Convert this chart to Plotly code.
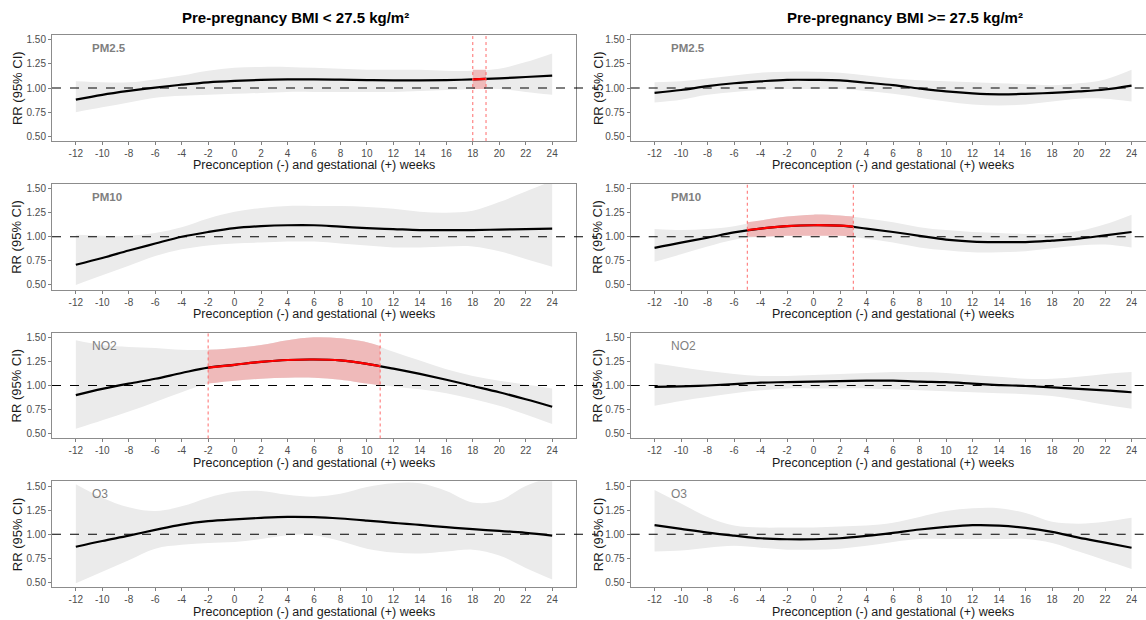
import plotly.graph_objects as go

# ---------------- data ----------------
weeks = [-12, -10, -8, -6, -4, -2, 0, 2, 4, 6, 8, 10, 12, 14, 16, 18, 20, 22, 24]
y_ticks = [0.5, 0.75, 1.0, 1.25, 1.5]
y_tick_labels = ["0.50", "0.75", "1.00", "1.25", "1.50"]
col_titles = ["Pre-pregnancy BMI < 27.5 kg/m²", "Pre-pregnancy BMI >= 27.5 kg/m²"]
pollutants = ["PM2.5", "PM10", "NO2", "O3"]
x_title = "Preconception (-) and gestational (+) weeks"
y_title = "RR (95% CI)"

# BMI < 27.5
pm25_lt_est = [0.88, 0.93, 0.97, 1.005, 1.035, 1.06, 1.075, 1.085, 1.09, 1.09, 1.087, 1.083, 1.08, 1.08, 1.083, 1.09, 1.10, 1.115, 1.13]
pm25_lt_lo = [0.75, 0.80, 0.85, 0.90, 0.92, 0.93, 0.94, 0.95, 0.96, 0.96, 0.96, 0.96, 0.96, 0.97, 0.98, 0.99, 0.99, 0.96, 0.93]
pm25_lt_hi = [1.07, 1.06, 1.06, 1.09, 1.13, 1.18, 1.21, 1.22, 1.22, 1.21, 1.20, 1.19, 1.19, 1.19, 1.18, 1.18, 1.20, 1.27, 1.36]

pm10_lt_est = [0.71, 0.78, 0.857, 0.93, 1.0, 1.05, 1.09, 1.11, 1.12, 1.12, 1.105, 1.09, 1.08, 1.07, 1.07, 1.07, 1.075, 1.08, 1.085]
pm10_lt_lo = [0.50, 0.60, 0.70, 0.80, 0.87, 0.91, 0.93, 0.94, 0.95, 0.95, 0.93, 0.91, 0.89, 0.89, 0.90, 0.90, 0.85, 0.77, 0.69]
pm10_lt_hi = [1.02, 1.01, 1.01, 1.04, 1.10, 1.19, 1.26, 1.30, 1.32, 1.32, 1.32, 1.31, 1.29, 1.26, 1.25, 1.27, 1.36, 1.47, 1.58]

no2_lt_est = [0.90, 0.965, 1.02, 1.07, 1.13, 1.185, 1.215, 1.245, 1.265, 1.27, 1.26, 1.225, 1.175, 1.12, 1.06, 0.995, 0.93, 0.857, 0.78]
no2_lt_lo = [0.55, 0.64, 0.73, 0.83, 0.93, 1.02, 1.05, 1.07, 1.08, 1.08, 1.06, 1.02, 0.99, 0.96, 0.92, 0.86, 0.79, 0.70, 0.60]
no2_lt_hi = [1.47, 1.42, 1.40, 1.39, 1.37, 1.37, 1.39, 1.42, 1.47, 1.50, 1.49, 1.45, 1.35, 1.26, 1.17, 1.10, 1.05, 1.01, 0.97]

o3_lt_est = [0.87, 0.93, 0.985, 1.045, 1.10, 1.135, 1.155, 1.17, 1.18, 1.177, 1.163, 1.142, 1.118, 1.097, 1.073, 1.052, 1.035, 1.014, 0.986]
o3_lt_lo = [0.49, 0.61, 0.73, 0.85, 0.89, 0.91, 0.92, 0.95, 0.99, 0.99, 0.93, 0.85, 0.81, 0.80, 0.82, 0.84, 0.78, 0.65, 0.53]
o3_lt_hi = [1.52, 1.38, 1.28, 1.24, 1.29, 1.38, 1.44, 1.45, 1.41, 1.39, 1.42, 1.49, 1.53, 1.53, 1.45, 1.33, 1.35, 1.50, 1.60]

# BMI >= 27.5
pm25_ge_est = [0.95, 0.98, 1.02, 1.05, 1.07, 1.085, 1.085, 1.08, 1.055, 1.03, 0.995, 0.965, 0.945, 0.935, 0.94, 0.95, 0.965, 0.985, 1.025]
pm25_ge_lo = [0.85, 0.88, 0.93, 0.96, 0.98, 0.99, 0.99, 0.99, 0.97, 0.94, 0.90, 0.86, 0.83, 0.82, 0.83, 0.86, 0.89, 0.89, 0.86]
pm25_ge_hi = [1.06, 1.07, 1.10, 1.13, 1.16, 1.17, 1.17, 1.16, 1.13, 1.10, 1.08, 1.07, 1.06, 1.05, 1.04, 1.03, 1.05, 1.09, 1.19]

pm10_ge_est = [0.885, 0.94, 0.99, 1.045, 1.085, 1.11, 1.12, 1.115, 1.085, 1.05, 1.01, 0.97, 0.95, 0.945, 0.945, 0.96, 0.98, 1.015, 1.05]
pm10_ge_lo = [0.74, 0.82, 0.90, 0.97, 1.00, 1.01, 1.01, 1.01, 0.98, 0.94, 0.89, 0.86, 0.84, 0.84, 0.85, 0.88, 0.91, 0.92, 0.89]
pm10_ge_hi = [1.08, 1.07, 1.08, 1.11, 1.17, 1.21, 1.23, 1.22, 1.19, 1.15, 1.10, 1.07, 1.05, 1.04, 1.03, 1.03, 1.06, 1.13, 1.23]

no2_ge_est = [0.985, 0.99, 1.0, 1.015, 1.03, 1.035, 1.04, 1.045, 1.05, 1.05, 1.04, 1.035, 1.02, 1.005, 0.995, 0.98, 0.965, 0.95, 0.93]
no2_ge_lo = [0.79, 0.84, 0.88, 0.92, 0.95, 0.97, 0.97, 0.97, 0.97, 0.96, 0.95, 0.94, 0.93, 0.92, 0.91, 0.89, 0.85, 0.80, 0.76]
no2_ge_hi = [1.23, 1.19, 1.15, 1.12, 1.10, 1.10, 1.11, 1.12, 1.13, 1.14, 1.14, 1.13, 1.11, 1.09, 1.07, 1.07, 1.09, 1.12, 1.14]

o3_ge_est = [1.094, 1.055, 1.017, 0.986, 0.958, 0.948, 0.948, 0.958, 0.983, 1.014, 1.049, 1.076, 1.094, 1.09, 1.066, 1.024, 0.965, 0.913, 0.86]
o3_ge_lo = [0.82, 0.83, 0.86, 0.88, 0.86, 0.84, 0.84, 0.85, 0.88, 0.92, 0.95, 0.95, 0.95, 0.95, 0.95, 0.91, 0.82, 0.73, 0.64]
o3_ge_hi = [1.46, 1.32, 1.18, 1.09, 1.07, 1.07, 1.07, 1.08, 1.09, 1.12, 1.18, 1.24, 1.27, 1.27, 1.22, 1.13, 1.11, 1.13, 1.17]

# significant windows
pm25_lt_sig_x = [18, 19]
pm25_lt_sig_est = [1.09, 1.095]
pm25_lt_sig_lo = [0.99, 0.99]
pm25_lt_sig_hi = [1.19, 1.19]

pm10_ge_sig_x = [-5, -4, -2, 0, 2, 3]
pm10_ge_sig_est = [1.07, 1.085, 1.11, 1.12, 1.115, 1.105]
pm10_ge_sig_lo = [1.00, 1.00, 1.01, 1.01, 1.01, 1.00]
pm10_ge_sig_hi = [1.15, 1.17, 1.21, 1.23, 1.22, 1.21]

no2_lt_sig_x = [-2, 0, 2, 4, 6, 8, 10, 11]
no2_lt_sig_est = [1.185, 1.215, 1.245, 1.265, 1.27, 1.26, 1.225, 1.20]
no2_lt_sig_lo = [1.02, 1.05, 1.07, 1.08, 1.08, 1.06, 1.02, 1.00]
no2_lt_sig_hi = [1.37, 1.39, 1.42, 1.47, 1.50, 1.49, 1.45, 1.41]

# ---------------- layout geometry ----------------
W, H = 1146, 620
FONT = "Liberation Sans, Arial, sans-serif"
col_px = [(52.0, 576.0), (630.7, 1146.0)]
hline_px = [(52.0, 597.0), (630.7, 1146.0)]
x_ranges = [[-13.8, 25.8], [-13.8, 25.09]]
row_top0, row_step, row_h = 34.2, 149.2, 106.3
title_cx = [295, 905]
ytitle_x = [17, 598]

panels = [
    (0, 0, pm25_lt_est, pm25_lt_lo, pm25_lt_hi, (pm25_lt_sig_x, pm25_lt_sig_est, pm25_lt_sig_lo, pm25_lt_sig_hi)),
    (0, 1, pm25_ge_est, pm25_ge_lo, pm25_ge_hi, None),
    (1, 0, pm10_lt_est, pm10_lt_lo, pm10_lt_hi, None),
    (1, 1, pm10_ge_est, pm10_ge_lo, pm10_ge_hi, (pm10_ge_sig_x, pm10_ge_sig_est, pm10_ge_sig_lo, pm10_ge_sig_hi)),
    (2, 0, no2_lt_est, no2_lt_lo, no2_lt_hi, (no2_lt_sig_x, no2_lt_sig_est, no2_lt_sig_lo, no2_lt_sig_hi)),
    (2, 1, no2_ge_est, no2_ge_lo, no2_ge_hi, None),
    (3, 0, o3_lt_est, o3_lt_lo, o3_lt_hi, None),
    (3, 1, o3_ge_est, o3_ge_lo, o3_ge_hi, None),
]

fig = go.Figure()
layout = dict(
    width=W, height=H, margin=dict(l=0, r=0, t=0, b=0),
    paper_bgcolor="white", plot_bgcolor="white", showlegend=False,
    font=dict(family=FONT, color="#1a1a1a"),
)
annotations = []
shapes = []

for i, (r, c, est, lo, hi, sig) in enumerate(panels, start=1):
    s = "" if i == 1 else str(i)
    xa, ya = "x" + s, "y" + s
    top = row_top0 + r * row_step
    bot = top + row_h
    x0p, x1p = col_px[c]

    common = dict(xaxis=xa, yaxis=ya, hoverinfo="skip", showlegend=False)
    fig.add_trace(go.Scatter(x=weeks, y=lo, mode="lines", line=dict(width=0, shape="spline"), **common))
    fig.add_trace(go.Scatter(x=weeks, y=hi, mode="lines", line=dict(width=0, shape="spline"),
                             fill="tonexty", fillcolor="#EBEBEB", **common))
    if sig:
        sx, se, sl, sh = sig
        fig.add_trace(go.Scatter(x=sx, y=sl, mode="lines", line=dict(width=0, shape="spline"), **common))
        fig.add_trace(go.Scatter(x=sx, y=sh, mode="lines", line=dict(width=0, shape="spline"),
                                 fill="tonexty", fillcolor="#EFBABA", **common))
    fig.add_trace(go.Scatter(x=weeks, y=est, mode="lines",
                             line=dict(color="black", width=2.2, shape="spline"), **common))
    if sig:
        fig.add_trace(go.Scatter(x=sx, y=se, mode="lines",
                                 line=dict(color="#FF0000", width=2.2, shape="spline"), **common))
        for xv in (sx[0], sx[-1]):
            shapes.append(dict(type="line", xref=xa, yref=ya + " domain", x0=xv, x1=xv, y0=0, y1=1,
                               line=dict(color="#FF6B6B", width=1, dash="dot"), layer="above"))

    layout["xaxis" + s] = dict(
        domain=[x0p / W, x1p / W], range=x_ranges[c], anchor=ya,
        tickvals=weeks, ticktext=[str(w) for w in weeks],
        ticks="outside", ticklen=3, tickcolor="#7F7F7F", tickwidth=1,
        tickfont=dict(size=10, color="#4D4D4D", family=FONT),
        showline=True, linecolor="#8C8C8C", linewidth=1, mirror=True,
        showgrid=False, zeroline=False, fixedrange=True,
    )
    layout["yaxis" + s] = dict(
        domain=[1 - bot / H, 1 - top / H], range=[0.45, 1.55], anchor=xa,
        tickvals=y_ticks, ticktext=y_tick_labels,
        ticks="outside", ticklen=3, tickcolor="#7F7F7F", tickwidth=1,
        tickfont=dict(size=10, color="#4D4D4D", family=FONT),
        showline=True, linecolor="#8C8C8C", linewidth=1, mirror=(c == 0),
        showgrid=False, zeroline=False, fixedrange=True,
    )

    # panel label
    bold = r < 2
    lab = pollutants[r]
    annotations.append(dict(
        xref=xa, yref=ya, x=-10.9, y=1.415, xanchor="left", yanchor="middle",
        text=("<b>%s</b>" % lab) if bold else lab, showarrow=False,
        font=dict(size=11.5 if bold else 12, color="#7F7F7F", family=FONT)))
    # x-axis title
    annotations.append(dict(
        xref="paper", yref="paper", x=((x0p + x1p) / 2 if c == 0 else (x0p + 1155.0) / 2) / W,
        y=1 - (bot + 24.5) / H, xanchor="center", yanchor="middle", text=x_title, showarrow=False,
        font=dict(size=12.5, color="#1a1a1a", family=FONT)))
    # y-axis title
    annotations.append(dict(
        xref="paper", yref="paper", x=ytitle_x[c] / W, y=1 - (top + row_h / 2) / H,
        xanchor="center", yanchor="middle", textangle=-90, text=y_title, showarrow=False,
        font=dict(size=13, color="#1a1a1a", family=FONT)))

    # dashed reference line at RR = 1
    h0, h1 = hline_px[c]
    shapes.append(dict(type="line", xref="paper", yref=ya, x0=h0 / W, x1=h1 / W, y0=1.0, y1=1.0,
                       line=dict(color="black", width=1.1, dash="dash"), layer="above"))

for c in range(2):
    annotations.append(dict(
        xref="paper", yref="paper", x=title_cx[c] / W, y=1 - 17 / H, xanchor="center", yanchor="middle",
        text="<b>%s</b>" % col_titles[c], showarrow=False,
        font=dict(size=15, color="black", family=FONT)))

layout["annotations"] = annotations
layout["shapes"] = shapes
fig.update_layout(**layout)
fig.write_html("out.html")
